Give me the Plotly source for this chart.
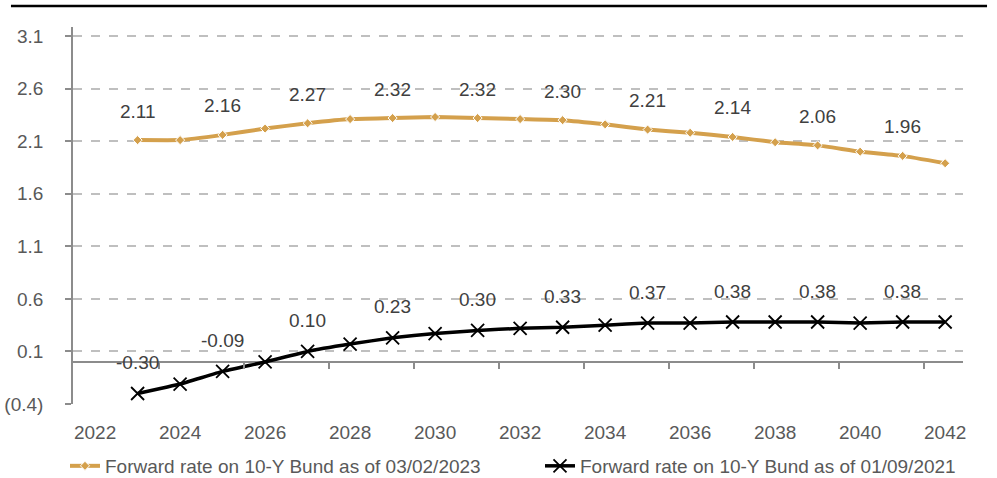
import plotly.graph_objects as go

years = list(range(2023, 2043))
fwd_2023 = [2.11, 2.11, 2.16, 2.22, 2.27, 2.31, 2.32, 2.33, 2.32, 2.31,
            2.30, 2.26, 2.21, 2.18, 2.14, 2.09, 2.06, 2.00, 1.96, 1.89]
fwd_2021 = [-0.30, -0.21, -0.09, 0.00, 0.10, 0.17, 0.23, 0.27, 0.30, 0.32,
            0.33, 0.35, 0.37, 0.37, 0.38, 0.38, 0.38, 0.37, 0.38, 0.38]
name_2023 = "Forward rate on 10-Y Bund as of 03/02/2023"
name_2021 = "Forward rate on 10-Y Bund as of 01/09/2021"
y_tickvals = [-0.4, 0.1, 0.6, 1.1, 1.6, 2.1, 2.6, 3.1]
y_ticktext = ["(0.4)", "0.1", "0.6", "1.1", "1.6", "2.1", "2.6", "3.1"]
x_tickvals = list(range(2022, 2043, 2))
zero_ticks = [2023.5 + 2 * i for i in range(10)]

FONT = "Liberation Sans, Arial, sans-serif"
FS = 19
TXT = "#404040"
TICK = "#595959"
GOLD = "#D4A04C"
GRID = "#BFBFBF"
AX = "#8C8C8C"

fig = go.Figure()
fig.add_trace(go.Scatter(
    x=years, y=fwd_2023, name=name_2023, mode="lines+markers",
    line=dict(color=GOLD, width=4, shape="spline", smoothing=0.3),
    marker=dict(symbol="diamond", size=7, color=GOLD, line=dict(color="white", width=1)),
))
fig.add_trace(go.Scatter(
    x=years, y=fwd_2021, name=name_2021, mode="lines+markers",
    line=dict(color="black", width=3.5, shape="spline", smoothing=0.3),
    marker=dict(symbol="x-thin", size=13, color="black", line=dict(color="black", width=1.8)),
))
# invisible trace to carry the zero-line tick axis
fig.add_trace(go.Scatter(x=[years[0]], y=[0], xaxis="x2", mode="markers",
                         marker=dict(opacity=0), showlegend=False, hoverinfo="skip"))

for i, (x, v) in enumerate(zip(years, fwd_2023)):
    if i % 2 == 0:
        fig.add_annotation(x=x, y=v, text=f"{v:.2f}", showarrow=False, yshift=29,
                           font=dict(family=FONT, size=FS, color=TXT))
for i, (x, v) in enumerate(zip(years, fwd_2021)):
    if i % 2 == 0:
        fig.add_annotation(x=x, y=v, text=f"{v:.2f}", showarrow=False, yshift=31,
                           font=dict(family=FONT, size=FS, color=TXT))

ymin, ymax = -0.4, 3.186
fig.add_shape(type="line", xref="paper", yref="paper", x0=-0.0697, x1=1.027,
              y0=1.0557, y1=1.0557, line=dict(color="black", width=2.5))

fig.update_layout(
    width=997, height=478,
    margin=dict(l=73, r=34, t=27, b=74, autoexpand=False),
    paper_bgcolor="white", plot_bgcolor="white",
    font=dict(family=FONT, size=FS, color=TXT),
    xaxis=dict(range=[2021.48, 2042.42], tickvals=x_tickvals, showgrid=False,
               zeroline=False, showline=False, ticks="", automargin=False,
               ticklabelstandoff=15,
               tickfont=dict(family=FONT, size=FS, color=TICK)),
    xaxis2=dict(range=[2021.48, 2042.42], overlaying="x", anchor="free",
                position=(0 - ymin) / (ymax - ymin), side="bottom",
                tickvals=zero_ticks, showticklabels=False, ticks="outside",
                ticklen=6, tickwidth=1.5, tickcolor=AX, showgrid=False,
                zeroline=False, showline=False, automargin=False),
    yaxis=dict(range=[ymin, ymax], tickvals=y_tickvals, ticktext=y_ticktext,
               showgrid=True, gridcolor=GRID, gridwidth=1.5, griddash="dash",
               zeroline=True, zerolinecolor=AX, zerolinewidth=1.5,
               showline=True, linecolor=AX, linewidth=1.5, automargin=False,
               ticks="outside", ticklen=6, tickwidth=1.5, tickcolor=AX,
               ticklabelstandoff=18,
               tickfont=dict(family=FONT, size=FS, color=TICK)),
    legend=dict(orientation="h", x=-0.009, y=-0.114, xanchor="left", yanchor="top",
                font=dict(family=FONT, size=FS, color=TICK),
                entrywidth=430, entrywidthmode="pixels", bgcolor="rgba(0,0,0,0)"),
    showlegend=True,
)
fig.write_html("out.html", config={"displayModeBar": False},
               post_script="document.body.style.margin='0';document.body.style.overflow='hidden';")
